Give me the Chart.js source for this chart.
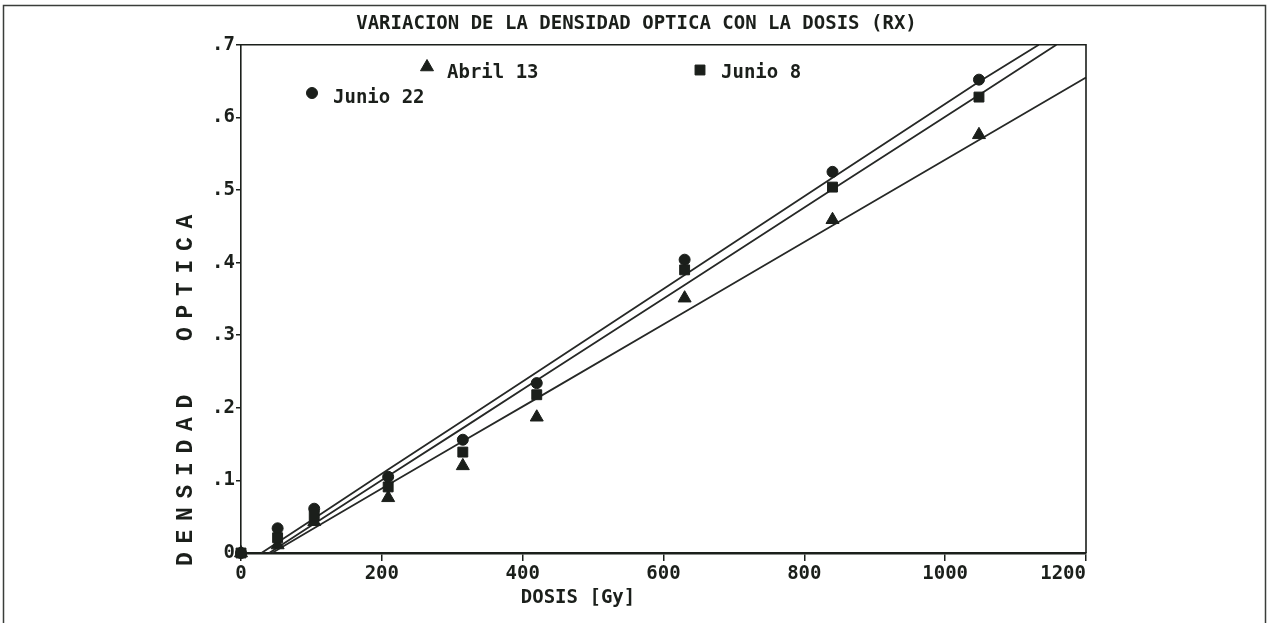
<!DOCTYPE html>
<html><head><meta charset="utf-8">
<script src="https://cdn.jsdelivr.net/npm/chart.js@4/dist/chart.umd.min.js"></script>
<style>html,body{margin:0;padding:0;background:#fff;overflow:hidden}#wrap{width:1273px;height:623px;position:relative}</style>
</head><body><div id="wrap"><canvas id="c" width="1273" height="623"></canvas></div>
<script>
// ---- data ----
const chartTitle = 'VARIACION DE LA DENSIDAD OPTICA CON LA DOSIS (RX)';
const xTitle = 'DOSIS [Gy]';
const yTitle = 'DENSIDAD  OPTICA';
const seriesNames = ['Junio 22', 'Abril 13', 'Junio 8'];

const doses   = [0, 52, 104, 209, 315, 420, 630, 840, 1048];
const junio22 = [0, 0.034, 0.061, 0.105, 0.156, 0.234, 0.404, 0.525, 0.652];
const junio8  = [0, 0.021, 0.051, 0.091, 0.139, 0.218, 0.390, 0.504, 0.628];
const abril13 = [0, 0.011, 0.043, 0.076, 0.120, 0.187, 0.351, 0.459, 0.576];

const fitJ22Dose = [29, 100, 209, 315, 420, 630, 840, 1048, 1133];
const fitJ22     = [0, 0.045, 0.115, 0.182, 0.249, 0.383, 0.517, 0.649, 0.700];
const fitJ8Dose  = [40, 100, 209, 315, 420, 630, 840, 1048, 1158];
const fitJ8      = [0, 0.038, 0.106, 0.172, 0.238, 0.369, 0.501, 0.631, 0.700];
const fitA13Dose = [44, 100, 209, 315, 420, 630, 840, 1048, 1200];
const fitA13     = [0, 0.032, 0.094, 0.154, 0.213, 0.332, 0.451, 0.569, 0.655];

const xTickLabels = ['0', '200', '400', '600', '800', '1000', '1200'];
const yTickLabels = ['0', '.1', '.2', '.3', '.4', '.5', '.6', '.7'];

// ---- helpers ----
const INK = '#1b1f1b';
const pts = (xs, ys) => xs.map((x, i) => ({x: x, y: ys[i]}));
const MONO = '"DejaVu Sans Mono", "Liberation Mono", monospace';

const markerStyles = {
  'Junio 22': {pointStyle: 'circle', radius: 5.5},
  'Abril 13': {pointStyle: 'triangle', radius: 7.5},
  'Junio 8':  {pointStyle: 'rect', radius: 7}
};

const lineDs = (data) => ({
  type: 'scatter', data: data, showLine: true, pointRadius: 0, borderColor: '#262826',
  borderWidth: 1.8, tension: 0, clip: false, order: 5
});
const ptDs = (name, data, order) => ({
  type: 'scatter', label: name, data: data, showLine: false, clip: false, order: order,
  pointStyle: markerStyles[name].pointStyle, pointRadius: markerStyles[name].radius,
  backgroundColor: INK, borderColor: INK, borderWidth: 1
});

const decorPlugin = {
  id: 'decor',
  beforeDraw(chart) {
    const ctx = chart.ctx;
    ctx.save();
    ctx.fillStyle = '#fff';
    ctx.fillRect(0, 0, chart.width, chart.height);
    ctx.strokeStyle = '#3a3d3a';
    ctx.lineWidth = 1.5;
    ctx.beginPath();
    ctx.moveTo(3.5, 640); ctx.lineTo(3.5, 5.5); ctx.lineTo(1265.5, 5.5); ctx.lineTo(1265.5, 640);
    ctx.stroke();
    ctx.restore();
  },
  afterDraw(chart) {
    const ctx = chart.ctx, a = chart.chartArea;
    ctx.save();
    // frame top/right
    ctx.strokeStyle = INK;
    ctx.lineWidth = 1.6;
    ctx.beginPath();
    ctx.moveTo(a.left, a.top); ctx.lineTo(a.right, a.top); ctx.lineTo(a.right, a.bottom);
    ctx.stroke();

    ctx.fillStyle = INK;
    // x title
    ctx.font = 'bold 19px ' + MONO;
    ctx.textAlign = 'center';
    ctx.textBaseline = 'middle';
    ctx.fillText(xTitle, 578, 598);

    // y title (rotated, spaced)
    ctx.save();
    ctx.translate(186, 566);
    ctx.rotate(-Math.PI / 2);
    ctx.font = 'bold 23px "Liberation Mono", "DejaVu Sans Mono", monospace';
    if ('letterSpacing' in ctx) ctx.letterSpacing = '8.7px';
    ctx.textAlign = 'left';
    ctx.textBaseline = 'middle';
    ctx.fillText(yTitle, 0, 0);
    ctx.restore();

    // legend entries placed inside the plot
    const legendPos = {
      'Junio 22': {mx: 312, my: 93, tx: 333, ty: 98},
      'Abril 13': {mx: 427, my: 67, tx: 447, ty: 73},
      'Junio 8':  {mx: 700, my: 70, tx: 721, ty: 73}
    };
    ctx.font = 'bold 19px ' + MONO;
    ctx.textAlign = 'left';
    ctx.textBaseline = 'middle';
    seriesNames.forEach(n => {
      const p = legendPos[n], m = markerStyles[n];
      ctx.fillStyle = INK; ctx.strokeStyle = INK; ctx.lineWidth = 1;
      Chart.helpers.drawPoint(ctx, {pointStyle: m.pointStyle, radius: m.radius, rotation: 0, borderWidth: 1}, p.mx, p.my);
      ctx.fillStyle = INK;
      ctx.fillText(n, p.tx, p.ty);
    });
    ctx.restore();
  }
};

new Chart(document.getElementById('c'), {
  type: 'scatter',
  data: {
    datasets: [
      lineDs(pts(fitJ22Dose, fitJ22)),
      lineDs(pts(fitJ8Dose, fitJ8)),
      lineDs(pts(fitA13Dose, fitA13)),
      ptDs('Abril 13', pts(doses, abril13), 3),
      ptDs('Junio 22', pts(doses, junio22), 2),
      ptDs('Junio 8', pts(doses, junio8), 1)
    ]
  },
  options: {
    responsive: false, animation: false, devicePixelRatio: 1,
    layout: {padding: {left: 0, right: 0, top: 0, bottom: 0}},
    plugins: {
      legend: {display: false},
      tooltip: {enabled: false},
      title: {
        display: true, text: chartTitle, color: INK,
        font: {family: MONO, size: 19, weight: 'bold', lineHeight: 1.2},
        padding: {top: 13, bottom: 9}
      }
    },
    scales: {
      x: {
        type: 'linear', min: 0, max: 1200,
        afterFit: s => { s.height = 70; },
        ticks: {
          stepSize: 200, autoSkip: false, maxRotation: 0, padding: 2, color: INK,
          font: {family: MONO, size: 19, weight: 'bold'},
          callback: (v, i) => {
            const k = Math.round(v / 200);
            const t = xTickLabels[k];
            return k === xTickLabels.length - 1 ? t + '    ' : t;
          }
        },
        grid: {drawOnChartArea: false, drawTicks: true, tickLength: 8, color: INK, lineWidth: 1.5},
        border: {display: true, color: INK, width: 2.5}
      },
      y: {
        type: 'linear', min: 0, max: 0.7,
        afterFit: s => { s.width = 241; },
        ticks: {
          stepSize: 0.1, autoSkip: false, padding: 1, color: INK,
          font: {family: MONO, size: 19, weight: 'bold'},
          callback: (v) => yTickLabels[Math.round(v * 10)]
        },
        grid: {drawOnChartArea: false, drawTicks: true, tickLength: 5, color: INK, lineWidth: 1.5},
        border: {display: true, color: INK, width: 1.6}
      },
      yRightSpace: {
        type: 'linear', position: 'right', min: 0, max: 1, display: true,
        afterFit: s => { s.width = 187; },
        ticks: {display: false},
        grid: {display: false, drawTicks: false},
        border: {display: false}
      }
    }
  },
  plugins: [decorPlugin]
});
</script>
</body></html>
